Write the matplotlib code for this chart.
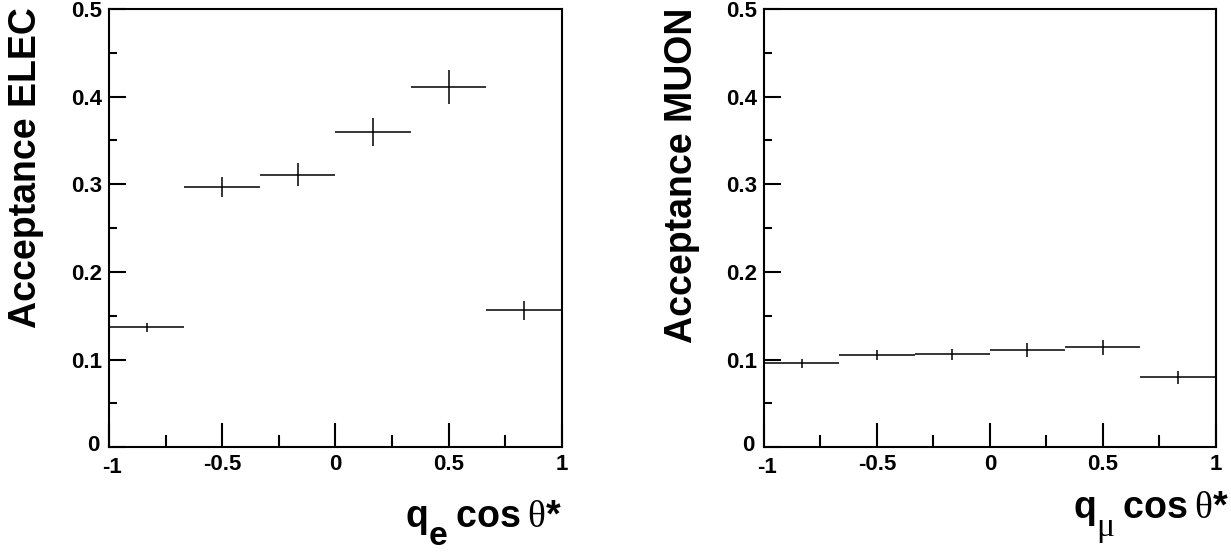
import matplotlib
matplotlib.use('Agg')
import matplotlib.pyplot as plt
import matplotlib.transforms as mtransforms
import matplotlib._mathtext as mathtext_internal
import numpy as np

plt.rcParams['font.family'] = ['Liberation Sans', 'DejaVu Sans']
plt.rcParams['mathtext.fontset'] = 'custom'
plt.rcParams['mathtext.bf'] = 'Liberation Sans:bold'
plt.rcParams['mathtext.rm'] = 'Liberation Serif'
plt.rcParams['mathtext.it'] = 'Liberation Serif:italic'
# ROOT draws its subscripts nearly full size and well below the baseline
mathtext_internal.SHRINK_FACTOR = 0.9
mathtext_internal.FontConstantsBase.sub1 = 1.0
mathtext_internal.FontConstantsBase.sub2 = 1.0

# bin edges in q*cos(theta*)
bin_edges = [-1, -2 / 3, -1 / 3, 0, 1 / 3, 2 / 3, 1]

# electron channel acceptance and errors
elec_acc = [0.137, 0.297, 0.311, 0.360, 0.411, 0.156]
elec_err = [0.005, 0.011, 0.013, 0.016, 0.019, 0.011]

# muon channel acceptance and errors
muon_acc = [0.0955, 0.105, 0.106, 0.111, 0.114, 0.080]
muon_err = [0.005, 0.0055, 0.0065, 0.008, 0.0084, 0.0074]

x_ticks = [-1, -0.5, 0, 0.5, 1]
x_ticklabels = ['-1', '-0.5', '0', '0.5', '1']
y_ticks = [0, 0.1, 0.2, 0.3, 0.4, 0.5]
y_ticklabels = ['0', '0.1', '0.2', '0.3', '0.4', '0.5']

panels = [
    ('Acceptance ELEC', r'$\mathbf{q}_{\mathbf{e}}\;\mathbf{cos}\;\mathrm{\theta}\mathbf{*}$',
     elec_acc, elec_err, (1.0, -0.183)),
    ('Acceptance MUON', r'$\mathbf{q}_{\mathrm{\mu}}\;\mathbf{cos}\;\mathrm{\theta}\mathbf{*}$',
     muon_acc, muon_err, (1.031, -0.162)),
]


def draw_panel(fig, ax, ylabel, xlabel, acc, err, xlab_pos):
    edges = np.array(bin_edges)
    centers = 0.5 * (edges[:-1] + edges[1:])
    half = 0.5 * (edges[1:] - edges[:-1])
    ax.errorbar(centers, acc, xerr=half, yerr=err, fmt='none',
                ecolor='black', elinewidth=1.1, capsize=0)

    ax.set_xlim(-1, 1)
    ax.set_ylim(0, 0.5)
    ax.set_xticks(x_ticks)
    ax.set_xticklabels(x_ticklabels)
    ax.set_xticks(np.arange(-1, 1.01, 0.25), minor=True)
    ax.set_yticks(y_ticks)
    ax.set_yticklabels(y_ticklabels)
    ax.set_yticks(np.arange(0, 0.51, 0.05), minor=True)

    ax.tick_params(which='both', direction='in', top=False, right=False,
                   labelsize=16, width=1.5)
    ax.tick_params(axis='x', which='major', length=17, pad=5)
    ax.tick_params(axis='x', which='minor', length=9)
    ax.tick_params(axis='y', which='major', length=12, pad=5)
    ax.tick_params(axis='y', which='minor', length=6)
    for lab in ax.get_xticklabels() + ax.get_yticklabels():
        lab.set_fontweight('bold')
    for sp in ax.spines.values():
        sp.set_linewidth(1.5)

    # nudge the "0" on the y axis up so it clears the "-1" below it
    zero_lab = ax.get_yticklabels()[0]
    zero_lab.set_transform(zero_lab.get_transform() +
                           mtransforms.ScaledTranslation(-2 / 72, 3 / 72, fig.dpi_scale_trans))
    m1_lab = ax.get_xticklabels()[0]
    m1_lab.set_transform(m1_lab.get_transform() +
                         mtransforms.ScaledTranslation(2 / 72, -2 / 72, fig.dpi_scale_trans))

    ax.text(-0.222, 1.004, ylabel, transform=ax.transAxes, rotation=90,
            ha='left', va='top', fontsize=27, fontweight='bold')
    ax.text(xlab_pos[0], xlab_pos[1], xlabel, transform=ax.transAxes,
            ha='right', va='baseline', fontsize=27)


fig = plt.figure(figsize=(12.31, 5.59), dpi=100)
ax1 = fig.add_axes([0.0885, 0.2, 0.368, 0.784])
ax2 = fig.add_axes([0.6206, 0.2, 0.367, 0.784])

for ax, (ylabel, xlabel, acc, err, xlab_pos) in zip([ax1, ax2], panels):
    draw_panel(fig, ax, ylabel, xlabel, acc, err, xlab_pos)

fig.savefig('out.png', dpi=100)
